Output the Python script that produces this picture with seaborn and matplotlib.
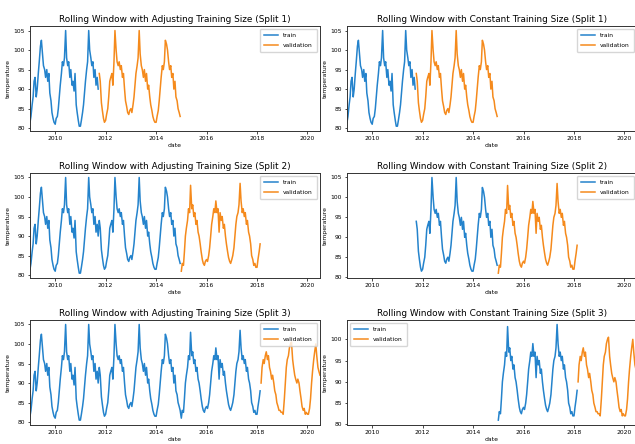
import numpy as np
import pandas as pd
import matplotlib
matplotlib.use("Agg")
import matplotlib.pyplot as plt
import matplotlib.dates as mdates
import seaborn as sns

# semi-monthly temperature readings (1st and 15th of each month)
temp_2009 = [81.5, 83, 86, 88, 92, 93, 88, 90, 94, 97, 101, 102.5, 99, 96, 95, 93, 95, 92, 94, 89, 87, 84, 82.5, 81.5]
temp_2010 = [81, 82.5, 83, 85, 88, 91, 94, 97, 96, 98, 105, 98, 96, 97, 93, 95, 91, 92, 89.5, 94, 86, 84, 82, 80.5]
temp_2011 = [80.5, 82, 84, 86, 89, 92, 95, 97, 105, 100, 98, 96, 97, 93, 95, 91, 93, 90, 94, 92, 86.5, 84.5, 82.5, 81.5]
temp_2012 = [82, 83.5, 85, 88, 92, 93, 94, 91, 97, 105, 100, 97, 96, 97, 95, 96, 93, 94, 90, 87, 85.5, 84, 83.5, 84.5]
temp_2013 = [85, 84, 86, 88, 91, 94, 96, 98, 105, 99, 96, 95, 93, 95, 92, 94, 90, 91, 88, 86, 84.5, 83, 82, 81.5]
temp_2014 = [81.5, 83, 84.5, 87, 90, 93, 96, 95, 97, 102.5, 101.5, 100, 97, 95, 96, 93, 94, 90, 92, 88, 87, 85, 84, 83]
temp_2015 = [81, 83, 82.5, 86, 90, 92, 94, 97, 96, 103, 97, 98, 95, 96, 93, 94, 91, 90, 88, 86, 84, 83, 82.5, 83.5]
temp_2016 = [84, 83.5, 85, 87, 90, 93, 95, 97, 96, 99, 96, 97, 91, 96, 94, 95, 92, 93, 90, 88, 86, 84.5, 83.5, 83]
temp_2017 = [84, 85, 87, 90, 93, 95, 96, 98, 103.5, 99, 96, 97, 95, 96, 93, 94, 91, 90, 88, 85, 84, 82.5, 83, 82]
temp_2018 = [82, 84, 86, 88, 90, 94, 96, 95, 97, 98, 96, 97, 94, 93, 91, 92, 90, 88, 87, 85, 84, 83, 83, 82.5]
temp_2019 = [82.5, 82, 86, 90, 94, 96, 97, 99, 100, 100.5, 96, 94, 92, 91, 90, 91, 90, 88, 86, 84, 83, 83.5, 82, 82.5]
temp_2020 = [82, 82, 83.5, 86, 90, 93, 96, 98, 100, 97, 94, 93, 92]

years = [2009, 2010, 2011, 2012, 2013, 2014, 2015, 2016, 2017, 2018, 2019, 2020]
yearly = [temp_2009, temp_2010, temp_2011, temp_2012, temp_2013, temp_2014,
          temp_2015, temp_2016, temp_2017, temp_2018, temp_2019, temp_2020]

# split boundaries
bounds = ["2009-01-01", "2011-10-01", "2015-01-01", "2018-03-01", "2020-07-02"]
split_names = ["Split 1", "Split 2", "Split 3"]

dates, temps = [], []
for y, vals in zip(years, yearly):
    for i, v in enumerate(vals):
        dates.append(pd.Timestamp(year=y, month=i // 2 + 1, day=1 if i % 2 == 0 else 15))
        temps.append(v)
df = pd.DataFrame({"date": dates, "temperature": temps})
b = [pd.Timestamp(x) for x in bounds]

def seg(lo, hi):
    return df[(df["date"] >= lo) & (df["date"] < hi)]

fig = plt.figure(figsize=(6.35, 4.44), dpi=100)
fig.patch.set_facecolor("white")

col_left = [30 / 635, 347 / 635]
width = 290 / 635
row_bottom = [0.705, 0.374, 0.043]
height = 0.237

blue = "#2483cc"
orange = "#f58a1c"

for r in range(3):
    for c in range(2):
        ax = fig.add_axes([col_left[c], row_bottom[r], width, height])
        if c == 0:
            tr = seg(b[0], b[r + 1])
            title = f"Rolling Window with Adjusting Training Size ({split_names[r]})"
        else:
            tr = seg(b[r], b[r + 1])
            title = f"Rolling Window with Constant Training Size ({split_names[r]})"
        va = seg(b[r + 1], b[r + 2])
        sns.lineplot(data=tr, x="date", y="temperature", ax=ax, color=blue,
                     label="train", linewidth=1.1, estimator=None)
        sns.lineplot(data=va, x="date", y="temperature", ax=ax, color=orange,
                     label="validation", linewidth=1.1, estimator=None)
        ax.set_xlim(df["date"].min(), df["date"].max())
        ax.xaxis.set_major_locator(mdates.YearLocator(2))
        ax.xaxis.set_major_formatter(mdates.DateFormatter("%Y"))
        ax.set_title(title, fontsize=6.4, pad=2.5)
        ax.set_xlabel("date", fontsize=4.4, labelpad=1.5)
        ax.set_ylabel("temperature", fontsize=4.4, labelpad=2)
        ax.tick_params(labelsize=4.3, length=1.8, width=0.5, pad=1.8)
        for s in ax.spines.values():
            s.set_linewidth(0.7)
            s.set_color("#333333")
        loc = "upper left" if (r == 2 and c == 1) else "upper right"
        ax.legend(loc=loc, fontsize=4.3, frameon=True, handlelength=2.4,
                  borderpad=0.7, labelspacing=0.8, framealpha=0.8)

fig.savefig("out.png", dpi=100, facecolor="white")
